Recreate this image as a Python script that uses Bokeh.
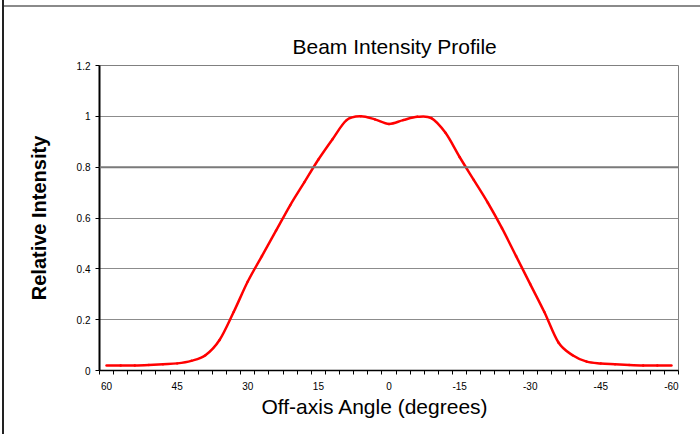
from bokeh.plotting import figure
from bokeh.models import Range1d, FixedTicker, Span, Title, ColumnDataSource
from bokeh.embed import file_html
from bokeh.resources import INLINE

title_text = "Beam Intensity Profile"
x_label = "Off-axis Angle (degrees)"
y_label = "Relative Intensity"

# category angles (3 degree steps) and measured relative intensity
angles = [60, 57, 54, 51, 48, 45, 42, 39, 36, 33, 30, 27, 24, 21, 18, 15, 12, 9, 6, 3, 0,
          -3, -6, -9, -12, -15, -18, -21, -24, -27, -30, -33, -36, -39, -42, -45, -48, -51, -54, -57, -60]
intensity = [0.02, 0.02, 0.02, 0.022, 0.025, 0.028, 0.038, 0.06, 0.12, 0.23, 0.35, 0.45, 0.55, 0.65,
             0.74, 0.83, 0.91, 0.985, 1.0, 0.988, 0.97, 0.985, 0.998, 0.993, 0.935, 0.84, 0.75, 0.66, 0.56,
             0.45, 0.34, 0.23, 0.11, 0.06, 0.035, 0.028, 0.025, 0.022, 0.02, 0.02, 0.02]

x_tick_values = [60, 45, 30, 15, 0, -15, -30, -45, -60]
x_tick_labels = ["60", "45", "30", "15", "0", "-15", "-30", "-45", "-60"]
y_tick_values = [0, 0.2, 0.4, 0.6, 0.8, 1, 1.2]
y_tick_labels = ["0", "0.2", "0.4", "0.6", "0.8", "1", "1.2"]
category_step = 3
highlight_line = 0.8

FONT = "Liberation Sans"

half = category_step / 2
x_lo = angles[0] + half
x_hi = angles[-1] - half
boundaries = [x_lo - category_step * k for k in range(len(angles) + 1)]

p = figure(width=700, height=434, output_backend="svg", toolbar_location=None,
           x_range=Range1d(x_lo, x_hi), y_range=Range1d(y_tick_values[0], y_tick_values[-1]),
           min_border_left=99, min_border_right=22, min_border_top=65, min_border_bottom=64,
           background_fill_color="white", border_fill_color="white", border_fill_alpha=0,
           styles={"background-color": "#ffffff",
                   "box-shadow": "inset 2px 0 0 0 #ffffff, inset 4px 0 0 0 #222222, "
                                 "inset 0 5px 0 0 #ffffff, inset 0 7px 0 0 #8a8a8a"})

p.title.text = title_text
p.title.align = "left"
p.title.text_font = FONT
p.title.text_font_size = "21px"
p.title.text_font_style = "normal"
p.title.text_color = "#000000"
p.title.offset = 193
p.title.standoff = 16

p.outline_line_color = "#808080"
p.outline_line_width = 1

# x axis
p.xaxis.ticker = FixedTicker(ticks=x_tick_values, minor_ticks=boundaries)
p.xaxis.major_label_overrides = dict(zip(x_tick_values, x_tick_labels))
p.xaxis.major_tick_line_color = None
p.xaxis.minor_tick_line_color = "#000000"
p.xaxis.minor_tick_out = 4
p.xaxis.minor_tick_in = 0
p.xaxis.axis_line_color = "#000000"
p.xaxis.axis_line_width = 1.5
p.xaxis.major_label_text_font = FONT
p.xaxis.major_label_text_font_size = "10px"
p.xaxis.major_label_text_color = "#000000"
p.xaxis.major_label_standoff = 5

x_title = Title(text=x_label, align="left", offset=162, standoff=0,
                text_font=FONT, text_font_size="21px", text_font_style="normal",
                text_color="#000000")
p.add_layout(x_title, "below")

# y axis
p.yaxis.ticker = FixedTicker(ticks=y_tick_values, minor_ticks=[])
p.yaxis.major_label_overrides = dict(zip(y_tick_values, y_tick_labels))
p.yaxis.major_tick_line_color = "#000000"
p.yaxis.major_tick_out = 4
p.yaxis.major_tick_in = 0
p.yaxis.axis_line_color = "#000000"
p.yaxis.axis_line_width = 2
p.yaxis.major_label_text_font = FONT
p.yaxis.major_label_text_font_size = "10px"
p.yaxis.major_label_text_color = "#000000"
p.yaxis.major_label_standoff = 5
p.yaxis.axis_label = y_label
p.yaxis.axis_label_text_font = FONT
p.yaxis.axis_label_text_font_size = "20px"
p.yaxis.axis_label_text_font_style = "bold"
p.yaxis.axis_label_text_color = "#000000"
p.yaxis.axis_label_standoff = 24

p.xgrid.grid_line_color = None
p.ygrid.grid_line_color = "#8c8c8c"
p.ygrid.grid_line_width = 1

p.add_layout(Span(location=highlight_line, dimension="width", line_color="#7a7a7a", line_width=2))

# smoothed line (Catmull-Rom style Bezier segments through the data points, like a spreadsheet "smoothed line")
n = len(angles)
x0, y0, x1, y1, cx0, cy0, cx1, cy1 = [], [], [], [], [], [], [], []
for i in range(n - 1):
    ia, ib = max(i - 1, 0), min(i + 2, n - 1)
    x0.append(angles[i]); y0.append(intensity[i])
    x1.append(angles[i + 1]); y1.append(intensity[i + 1])
    cx0.append(angles[i] + (angles[i + 1] - angles[ia]) / 6)
    cy0.append(intensity[i] + (intensity[i + 1] - intensity[ia]) / 6)
    cx1.append(angles[i + 1] - (angles[ib] - angles[i]) / 6)
    cy1.append(intensity[i + 1] - (intensity[ib] - intensity[i]) / 6)
src = ColumnDataSource(dict(x0=x0, y0=y0, x1=x1, y1=y1, cx0=cx0, cy0=cy0, cx1=cx1, cy1=cy1))
p.bezier(x0="x0", y0="y0", x1="x1", y1="y1", cx0="cx0", cy0="cy0", cx1="cx1", cy1="cy1",
         source=src, line_color="#ff0000", line_width=2.5, line_cap="round")

open("out.html", "w").write(file_html(p, INLINE))
